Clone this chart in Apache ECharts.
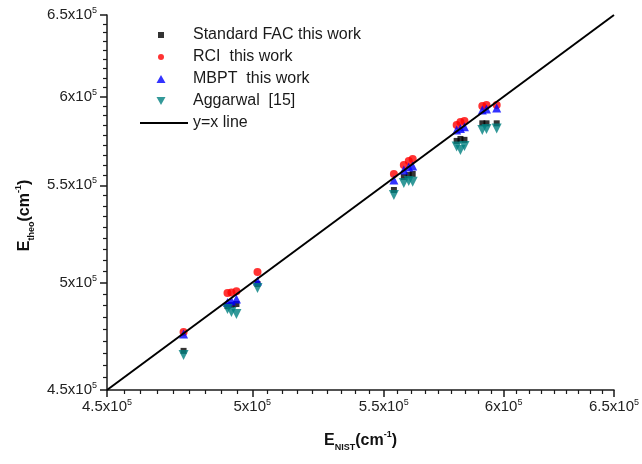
<!DOCTYPE html>
<html>
<head>
<meta charset="utf-8">
<script src="https://cdn.jsdelivr.net/npm/echarts@6/dist/echarts.min.js"></script>
<style>
    html, body { margin: 0; padding: 0; background: #ffffff; }
    #chart { width: 642px; height: 464px; }
</style>
</head>
<body>
<div id="chart"></div>
<script>
// NIST level energies (cm^-1), shared x values for every series
const nistEnergy = [475700, 491100, 492500, 494300, 501900, 554100, 558100, 560100, 561700, 579900, 581500, 583200, 590800, 592600, 597000];

// theoretical energies (cm^-1), one per NIST level
const facTheo = [467600, 488600, 489100, 489600, 499300, 547500, 554500, 555600, 556200, 574500, 575600, 575100, 584500, 584500, 584500];
const rciTheo = [476300, 494900, 495200, 495800, 505200, 556200, 561100, 563300, 564400, 583600, 585300, 585900, 594500, 595100, 595100];
const mbptTheo = [475400, 490300, 491000, 492000, 500800, 552900, 558400, 560000, 560600, 580700, 581600, 582600, 592200, 592800, 593300];
const aggTheo = [465700, 487200, 485800, 484800, 497300, 544800, 551300, 552300, 552000, 571300, 569400, 571600, 580700, 581300, 581600];

const diagonal = [450000, 650000];

const majorTicks = [450000, 500000, 550000, 600000, 650000];
const tickMantissa = ["4.5", "5", "5.5", "6", "6.5"];

const FONT = "Liberation Sans";
const AXIS_COLOR = "#1a1a1a";

// 8 minor ticks between majors
const minorTicks = [];
for (let i = 0; i < majorTicks.length - 1; i++) {
    const step = (majorTicks[i + 1] - majorTicks[i]) / 9;
    for (let k = 1; k < 9; k++) {
        minorTicks.push(majorTicks[i] + k * step);
    }
}

function pairUp(values) {
    return nistEnergy.map((x, i) => [x, values[i]]);
}

function tickLabel(value) {
    const i = majorTicks.findIndex((t) => Math.abs(t - value) < 1);
    if (i < 0) return "";
    return `{n|${tickMantissa[i]}x10}{s|5}`;
}

const labelRich = {
    n: { fontFamily: FONT, fontSize: 15, color: "#222", lineHeight: 18 },
    s: { fontFamily: FONT, fontSize: 9, color: "#222", lineHeight: 8, verticalAlign: "top" },
};

const nameRich = {
    e: { fontFamily: FONT, fontSize: 16, fontWeight: "bold", color: "#111", lineHeight: 22 },
    sub: { fontFamily: FONT, fontSize: 9, fontWeight: "bold", color: "#111", lineHeight: 12, verticalAlign: "bottom" },
    sup: { fontFamily: FONT, fontSize: 9, fontWeight: "bold", color: "#111", lineHeight: 10, verticalAlign: "top" },
};

function majorAxis(extra) {
    return Object.assign({
        type: "log",
        logBase: 10,
        min: 450000,
        max: 650000,
        splitLine: { show: false },
        axisLine: { show: true, lineStyle: { color: AXIS_COLOR, width: 1.5 } },
        axisTick: {
            show: true,
            inside: false,
            length: 7,
            customValues: majorTicks,
            lineStyle: { color: AXIS_COLOR, width: 1.5 },
        },
        nameLocation: "middle",
    }, extra);
}

function minorAxis(extra) {
    return Object.assign({
        type: "log",
        logBase: 10,
        min: 450000,
        max: 650000,
        splitLine: { show: false },
        axisLine: { show: false },
        axisLabel: { show: false },
        axisTick: {
            show: true,
            inside: false,
            length: 4,
            customValues: minorTicks,
            lineStyle: { color: AXIS_COLOR, width: 1.2 },
        },
    }, extra);
}

const chart = echarts.init(document.getElementById("chart"));

chart.setOption({
    animation: false,
    backgroundColor: "#ffffff",
    grid: { left: 107, right: 26, top: 15, bottom: 74 },
    legend: {
        orient: "vertical",
        left: 135,
        top: 22,
        itemWidth: 48,
        itemHeight: 10,
        itemGap: 6,
        symbolKeepAspect: true,
        textStyle: { fontFamily: FONT, fontSize: 16, color: "#1a1a1a", lineHeight: 15 },
        data: [
            { name: "Standard FAC this work", icon: "path://M0,0M16,10M2,2L8,2L8,8L2,8Z" },
            { name: "RCI  this work", icon: "path://M0,0M16,10M8,5A3,3,0,1,1,2,5A3,3,0,1,1,8,5Z" },
            { name: "MBPT  this work", icon: "path://M0,0M16,10M5,1L9.5,9L0.5,9Z" },
            { name: "Aggarwal  [15]", icon: "path://M0,0M16,10M0.5,1L9.5,1L5,9Z" },
            { name: "y=x line", icon: "path://M0,0L45,0L45,2L0,2Z" },
        ],
    },
    xAxis: [
        majorAxis({
            position: "bottom",
            axisLabel: { customValues: majorTicks, formatter: tickLabel, rich: labelRich, margin: 8 },
            name: "{e|E}{sub|NIST}{e|(cm}{sup|-1}{e|)}",
            nameGap: 40,
            nameTextStyle: { rich: nameRich },
        }),
        minorAxis({ position: "bottom" }),
    ],
    yAxis: [
        majorAxis({
            position: "left",
            axisLabel: { customValues: majorTicks, formatter: tickLabel, rich: labelRich, margin: 10 },
            name: "{e|E}{sub|theo}{e|(cm}{sup|-1}{e|)}",
            nameGap: 68,
            nameRotate: 90,
            nameTextStyle: { rich: nameRich, padding: [0, 26, 0, 0] },
        }),
        minorAxis({ position: "left" }),
    ],
    series: [
        {
            name: "Standard FAC this work",
            type: "scatter",
            symbol: "rect",
            symbolSize: 6,
            itemStyle: { color: "#000000" },
            data: pairUp(facTheo),
        },
        {
            name: "RCI  this work",
            type: "scatter",
            symbol: "circle",
            symbolSize: 8,
            itemStyle: { color: "#ff0000" },
            data: pairUp(rciTheo),
        },
        {
            name: "MBPT  this work",
            type: "scatter",
            symbol: "triangle",
            symbolSize: 9,
            itemStyle: { color: "#0000ff" },
            data: pairUp(mbptTheo),
        },
        {
            name: "Aggarwal  [15]",
            type: "scatter",
            symbol: "triangle",
            symbolRotate: 180,
            symbolSize: 10,
            itemStyle: { color: "#008080" },
            data: pairUp(aggTheo),
        },
        {
            name: "y=x line",
            type: "line",
            symbol: "none",
            lineStyle: { color: "#000000", width: 2 },
            itemStyle: { color: "#000000" },
            data: diagonal.map((v) => [v, v]),
        },
    ],
});
</script>
</body>
</html>
